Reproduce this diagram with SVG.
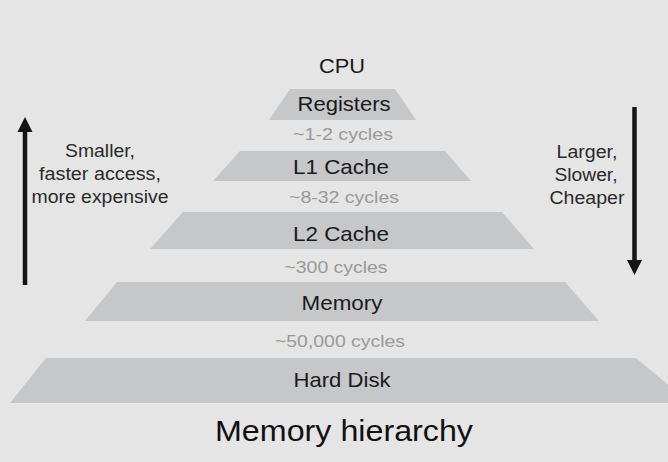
<svg xmlns="http://www.w3.org/2000/svg" width="668" height="462" viewBox="0 0 668 462">
<style>
text{font-family:"Liberation Sans",Arial,sans-serif;text-anchor:middle}
.tier{fill:#c6c7c9}
.lbl{font-size:21px;fill:#1a1a1a}
.cyc{font-size:17px;fill:#999999}
.side{font-size:17.5px;fill:#2a2a2a}
.title{font-size:29px;fill:#111}
.arr{stroke:#151515;stroke-width:4.5;fill:none}
.head{fill:#151515}
</style>
<rect width="668" height="462" fill="#e5e5e5"/>
<g id="cpu"><text class="lbl" x="342" y="73" textLength="46" lengthAdjust="spacingAndGlyphs">CPU</text></g>
<g id="registers">
<polygon class="tier" points="290,89 395,89 416,120 269,120"/>
<text class="lbl" x="344" y="111" textLength="93" lengthAdjust="spacingAndGlyphs">Registers</text>
</g>
<g id="lat-registers"><text class="cyc" x="343" y="140" textLength="100" lengthAdjust="spacingAndGlyphs">~1-2 cycles</text></g>
<g id="l1">
<polygon class="tier" points="240,151 445,151 471,181 213,181"/>
<text class="lbl" x="341" y="174" textLength="96" lengthAdjust="spacingAndGlyphs">L1 Cache</text>
</g>
<g id="lat-l1"><text class="cyc" x="344" y="203" textLength="110" lengthAdjust="spacingAndGlyphs">~8-32 cycles</text></g>
<g id="l2">
<polygon class="tier" points="183,212 502,212 534,249 150,249"/>
<text class="lbl" x="341" y="241" textLength="96" lengthAdjust="spacingAndGlyphs">L2 Cache</text>
</g>
<g id="lat-l2"><text class="cyc" x="336" y="273" textLength="103" lengthAdjust="spacingAndGlyphs">~300 cycles</text></g>
<g id="memory">
<polygon class="tier" points="117,282 565,282 599,321 85,321"/>
<text class="lbl" x="342" y="310" textLength="81" lengthAdjust="spacingAndGlyphs">Memory</text>
</g>
<g id="lat-memory"><text class="cyc" x="340" y="347" textLength="130" lengthAdjust="spacingAndGlyphs">~50,000 cycles</text></g>
<g id="harddisk">
<polygon class="tier" points="46,358 636,358 690,403 10,403"/>
<text class="lbl" x="342" y="387" textLength="97" lengthAdjust="spacingAndGlyphs">Hard Disk</text>
</g>
<g id="title"><text class="title" x="344" y="441" textLength="258" lengthAdjust="spacingAndGlyphs">Memory hierarchy</text></g>
<g id="connectors">
<line class="arr" x1="25" y1="285" x2="25" y2="128"/>
<polygon class="head" points="25,117 32.5,132 17.5,132"/>
<line class="arr" x1="634.5" y1="107" x2="634.5" y2="264"/>
<polygon class="head" points="634.5,275 642,260 627,260"/>
</g>
<g id="left-note">
<text class="side" x="100" y="157" textLength="70" lengthAdjust="spacingAndGlyphs">Smaller,</text>
<text class="side" x="100" y="180" textLength="122" lengthAdjust="spacingAndGlyphs">faster access,</text>
<text class="side" x="100" y="203" textLength="137" lengthAdjust="spacingAndGlyphs">more expensive</text>
</g>
<g id="right-note">
<text class="side" x="587" y="158" textLength="61" lengthAdjust="spacingAndGlyphs">Larger,</text>
<text class="side" x="586" y="181" textLength="63" lengthAdjust="spacingAndGlyphs">Slower,</text>
<text class="side" x="587" y="204" textLength="75" lengthAdjust="spacingAndGlyphs">Cheaper</text>
</g>
</svg>
